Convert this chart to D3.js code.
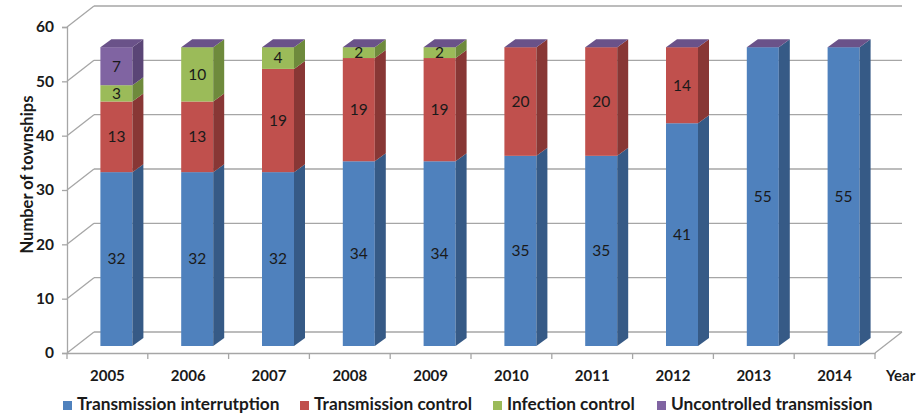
<!DOCTYPE html>
<html><head><meta charset="utf-8">
<script src="https://cdn.jsdelivr.net/npm/d3@7"></script>
<style>body{margin:0;background:#fff;}svg{display:block;font-family:Lato,"Open Sans",sans-serif;}</style>
</head><body><svg id="c" width="921" height="414"></svg>
<script>
const years = ["2005","2006","2007","2008","2009","2010","2011","2012","2013","2014"];
const interruption = [32,32,32,34,34,35,35,41,55,55];
const control = [13,13,19,19,19,20,20,14,0,0];
const infection = [3,10,4,2,2,0,0,0,0,0];
const uncontrolled = [7,0,0,0,0,0,0,0,0,0];
const seriesNames = ["Transmission interrutption","Transmission control","Infection control","Uncontrolled transmission"];
const yTicks = [0,10,20,30,40,50,60];
const frontCol = ["#4F81BD","#C0504D","#9BBB59","#8064A2"];
const sideCol  = ["#365A86","#883735","#6E8A3C","#5A4576"];
const topCol   = ["#5A8AC6","#A8423F","#7E9C46","#6A5289"];

const svg = d3.select("#c");
const x = d3.scaleBand().domain(years).range([67,875]);
const y = d3.scaleLinear().domain([0,60]).range([353,27]);
const DX=27, DY=-21;   // full depth
const OX=9, OY=-7;     // bar front offset
const BX=11, BY=-8;    // bar depth
const BW=32;

const keys=["a","b","c","d"];
const rows = years.map((yr,i)=>({year:yr,a:interruption[i],b:control[i],c:infection[i],d:uncontrolled[i]}));
const stack = d3.stack().keys(keys)(rows);

const grid = svg.append("g").attr("stroke","#A6A6A6").attr("stroke-width",1.3).attr("fill","none");
yTicks.forEach(v=>{
  grid.append("line").attr("x1",67+DX).attr("x2",875+DX).attr("y1",y(v)+DY).attr("y2",y(v)+DY);
  grid.append("line").attr("x1",67).attr("x2",67+DX).attr("y1",y(v)).attr("y2",y(v)+DY);
});
grid.append("line").attr("x1",875).attr("x2",875+DX).attr("y1",y(0)).attr("y2",y(0)+DY);

const yAxis = svg.append("g").attr("transform","translate(67,0)")
  .call(d3.axisLeft(y).tickValues(yTicks).tickSize(5).tickPadding(8));
yAxis.select(".domain").attr("stroke","#A6A6A6").attr("stroke-width",1.3);
yAxis.selectAll(".tick line").attr("stroke","#A6A6A6").attr("stroke-width",1.3);
yAxis.selectAll("text").attr("font-family","Lato").attr("font-weight","bold").attr("font-size",15.5).attr("fill","#1a1a1a");

const xAxis = svg.append("g").attr("transform",`translate(0,${y(0)})`)
  .call(d3.axisBottom(x).tickSize(0).tickPadding(17));
xAxis.select(".domain").attr("stroke","#A6A6A6").attr("stroke-width",1.3);
xAxis.selectAll("text").attr("font-family","Lato").attr("font-weight","bold").attr("font-size",15).attr("fill","#1a1a1a");
const bounds = years.map(d=>x(d)).concat([x.range()[1]]);
xAxis.selectAll("line.bt").data(bounds).join("line").attr("class","bt")
  .attr("x1",d=>d).attr("x2",d=>d).attr("y1",0).attr("y2",6)
  .attr("stroke","#A6A6A6").attr("stroke-width",1.3);
svg.append("text").attr("x",886).attr("y",381).text("Year")
  .attr("font-weight","bold").attr("font-size",15).attr("fill","#1a1a1a");

svg.append("text").attr("transform","translate(33,174.5) rotate(-90)").attr("text-anchor","middle")
  .attr("font-weight","bold").attr("font-size",16.5).attr("fill","#1a1a1a").text("Number of townships");

const bars = svg.append("g");
years.forEach((yr,i)=>{
  const x0 = x(yr)+x.bandwidth()/2+OX-BW/2;
  const g = bars.append("g");
  stack.forEach((s,k)=>{
    const v0=s[i][0], v1=s[i][1];
    if(v1-v0<=0) return;
    const yt=y(v1)+OY, yb=y(v0)+OY;
    g.append("rect").attr("x",x0).attr("y",yt).attr("width",BW).attr("height",yb-yt).attr("fill",frontCol[k]);
    g.append("path").attr("d",`M${x0+BW},${yb}L${x0+BW+BX},${yb+BY}L${x0+BW+BX},${yt+BY}L${x0+BW},${yt}Z`).attr("fill",sideCol[k]);
  });
  const tot = stack[3][i][1];
  const yt = y(tot)+OY;
  g.append("path").attr("d",`M${x0},${yt}L${x0+BW},${yt}L${x0+BW+BX},${yt+BY}L${x0+BX},${yt+BY}Z`).attr("fill",topCol[3]);
  stack.forEach((s,k)=>{
    const v0=s[i][0], v1=s[i][1];
    if(v1-v0<=0) return;
    g.append("text").attr("x",x0+BW/2).attr("y",(y(v0)+y(v1))/2+OY).attr("dy","0.35em")
      .attr("text-anchor","middle").attr("font-size",15.5).attr("fill","#1a1a1a").text(v1-v0);
  });
});

const legX=[63,300,493,657];
const leg = svg.append("g");
seriesNames.forEach((n,k)=>{
  leg.append("rect").attr("x",legX[k]).attr("y",401).attr("width",9).attr("height",9).attr("fill",frontCol[k]);
  leg.append("text").attr("x",legX[k]+14).attr("y",410).text(n)
    .attr("font-weight","bold").attr("font-size",17.3).attr("fill","#1a1a1a");
});
</script></body></html>
